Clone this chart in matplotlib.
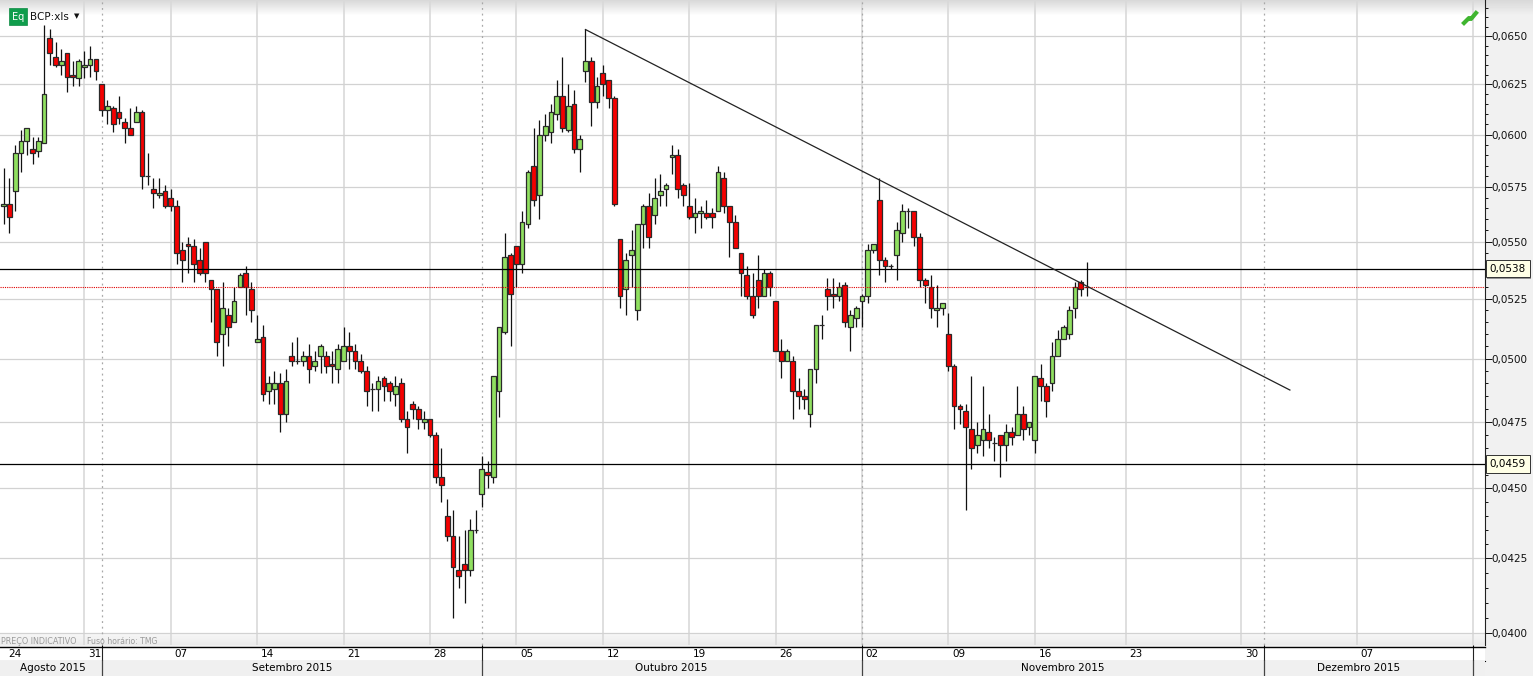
import matplotlib
matplotlib.use("Agg")
import matplotlib.patheffects as pe
import matplotlib.pyplot as plt
import numpy as np
from matplotlib.lines import Line2D
from matplotlib.ticker import FuncFormatter, NullFormatter

plt.rcParams["font.family"] = ["DejaVu Sans"]

# prices are kept in units of 0.0001 EUR
opens = [566, 567, 573, 591, 597, 593, 592, 596, 649, 639, 635, 641, 630, 628, 634, 635, 638, 625, 612, 613,
         611, 606, 603, 606, 611, 580, 574, 571, 573, 570, 566, 546, 549, 548, 542, 550, 533, 529, 510, 518,
         515, 530, 536, 529, 507, 509, 487, 488, 490, 478, 501, 499, 499, 501, 497, 501, 501, 498, 496, 499,
         505, 503, 499, 495, 488, 488, 492, 490, 486, 490, 476, 482, 480, 475, 476, 470, 454, 440, 433, 421,
         423, 421, 435, 448, 456, 454, 487, 511, 544, 548, 540, 558, 585, 571, 600, 601, 610, 619, 602, 615,
         593, 632, 637, 616, 631, 627, 618, 551, 529, 544, 520, 558, 566, 562, 571, 574, 589, 590, 576, 566,
         561, 563, 563, 563, 564, 579, 566, 559, 545, 535, 526, 533, 526, 536, 524, 503, 499, 499, 487, 485,
         478, 496, 514, 529, 527, 526, 531, 513, 517, 524, 526, 546, 569, 542, 539, 544, 554, 564, 564, 552,
         533, 530, 520, 521, 510, 497, 481, 479, 472, 466, 468, 471, 467, 470, 466, 471, 470, 478, 473, 468,
         492, 489, 490, 501, 508, 510, 521, 532, 530]
highs = [584, 579, 595, 602, 603, 599, 599, 656, 654, 647, 643, 641, 637, 638, 642, 645, 638, 625, 617, 614,
         619, 608, 613, 614, 612, 591, 579, 579, 576, 574, 569, 550, 552, 551, 547, 550, 533, 529, 532, 521,
         530, 536, 539, 532, 518, 514, 493, 495, 494, 496, 507, 509, 503, 506, 503, 506, 503, 503, 506, 513,
         511, 506, 502, 497, 490, 493, 493, 491, 493, 492, 479, 483, 481, 479, 476, 471, 465, 446, 442, 433,
         435, 439, 442, 462, 460, 493, 513, 554, 545, 548, 564, 583, 603, 607, 610, 615, 627, 639, 625, 622,
         600, 654, 639, 629, 635, 627, 619, 551, 545, 555, 558, 567, 572, 579, 581, 577, 595, 593, 577, 577,
         570, 566, 569, 565, 585, 582, 566, 562, 545, 539, 536, 544, 538, 537, 524, 508, 504, 501, 492, 488,
         496, 514, 518, 534, 534, 532, 532, 520, 522, 527, 549, 549, 579, 543, 540, 559, 567, 565, 564, 554,
         534, 535, 531, 523, 519, 498, 482, 482, 493, 475, 489, 478, 469, 470, 474, 473, 489, 481, 475, 493,
         498, 490, 507, 512, 514, 522, 532, 533, 541]
lows = [558, 554, 564, 582, 590, 586, 589, 596, 635, 634, 630, 621, 624, 624, 628, 629, 627, 609, 605, 601,
        605, 596, 600, 606, 574, 576, 565, 570, 565, 564, 540, 532, 536, 532, 535, 532, 515, 501, 497, 505,
        515, 530, 518, 515, 507, 483, 482, 482, 471, 475, 497, 498, 497, 490, 495, 494, 494, 490, 490, 499,
        496, 496, 494, 481, 479, 479, 483, 483, 481, 475, 463, 476, 472, 472, 469, 452, 445, 431, 405, 415,
        410, 419, 434, 443, 450, 452, 477, 510, 505, 530, 536, 556, 566, 560, 597, 596, 607, 601, 601, 591,
        582, 626, 604, 613, 619, 613, 566, 521, 518, 530, 516, 547, 547, 558, 566, 566, 581, 570, 566, 560,
        554, 556, 560, 556, 564, 563, 543, 547, 526, 525, 517, 521, 526, 526, 503, 492, 499, 476, 480, 480,
        473, 490, 508, 520, 521, 524, 513, 503, 513, 513, 523, 545, 535, 532, 538, 533, 550, 556, 548, 530,
        523, 517, 513, 518, 495, 472, 474, 442, 457, 463, 462, 465, 460, 454, 460, 466, 470, 468, 470, 463,
        483, 477, 487, 501, 508, 508, 517, 526, 526]
closes = [567, 561, 591, 597, 603, 591, 597, 620, 641, 635, 637, 629, 629, 637, 635, 638, 632, 612, 614, 605,
          608, 603, 600, 611, 580, 580, 572, 572, 566, 566, 545, 542, 548, 540, 536, 536, 529, 507, 521, 513,
          524, 535, 530, 520, 508, 486, 490, 490, 478, 491, 499, 499, 501, 496, 499, 505, 497, 497, 504, 505,
          503, 499, 495, 487, 488, 491, 489, 487, 489, 476, 473, 480, 476, 476, 470, 454, 451, 433, 422, 419,
          421, 435, 435, 457, 455, 493, 513, 543, 527, 540, 559, 582, 569, 600, 604, 611, 619, 603, 614, 593,
          598, 637, 616, 624, 625, 618, 567, 526, 542, 546, 558, 566, 552, 570, 573, 576, 590, 574, 571, 561,
          563, 564, 561, 561, 582, 566, 559, 547, 536, 526, 518, 526, 536, 530, 503, 499, 503, 487, 485, 484,
          496, 514, 514, 526, 526, 530, 515, 518, 521, 526, 546, 549, 542, 539, 539, 555, 564, 564, 552, 533,
          531, 521, 521, 523, 497, 481, 480, 473, 465, 470, 472, 468, 467, 466, 471, 469, 478, 472, 475, 493,
          489, 483, 501, 508, 513, 520, 530, 529, 530]

price_ticks = [0.0400, 0.0425, 0.0450, 0.0475, 0.0500, 0.0525, 0.0550, 0.0575, 0.0600, 0.0625, 0.0650]
price_minor = [p / 10000 for p in range(400, 670, 5) if p % 25 != 0]
support_levels = [0.0538, 0.0459]
last_close = 0.0530
trend_slots = [101, 215.3]
trend_prices = [0.06535, 0.04874]

# session slots: 15 per week, future weeks are drawn wider
week_slots = [14, 29, 44, 59, 74, 89, 104, 119, 134, 149, 164, 179, 194, 209, 224, 239]
week_labels = ["31", "07", "14", "21", "28", "05", "12", "19", "26", "02", "09", "16", "23", "30", "07"]
month_slots = [17, 83, 149, 212]
month_names = ["Agosto 2015", "Setembro 2015", "Outubro 2015", "Novembro 2015", "Dezembro 2015"]
month_centers = [8.55, 50, 115.8, 183.9, 224.2]

SCALE_SLOTS = [-10, 188, 194, 209, 224, 239, 260]
SCALE_PX = [-53.86, 1086.6, 1125.8, 1241.3, 1357, 1472.5, 1634.2]
W, H = 1533, 676


def to_px(x):
    return np.interp(x, SCALE_SLOTS, SCALE_PX)


def from_px(x):
    return np.interp(x, SCALE_PX, SCALE_SLOTS)


def strip_axes(top, bottom):
    return [0, (H - bottom) / H, 1484.5 / W, (bottom - top) / H]


fig = plt.figure(figsize=(W / 100, H / 100), dpi=100, facecolor="#f1f1f1")

# background shading at the top and in the note band
bg = fig.add_axes(strip_axes(0, 645))
shade = np.ones(645)
shade[:16] = np.linspace(0.85, 1.0, 16)
shade[633:] = np.linspace(0.97, 0.92, 12)
bg.imshow(shade[:, None], cmap="gray", vmin=0, vmax=1, aspect="auto")
bg.axis("off")

right = fig.add_axes([1484.5 / W, 1 - 16 / H, 1 - 1484.5 / W, 16 / H])
right.imshow(np.linspace(0.85, 0.945, 16)[:, None], cmap="gray", vmin=0, vmax=1, aspect="auto")
right.axis("off")

ax = fig.add_axes(strip_axes(0, 645), facecolor="none")
ax.set_xscale("function", functions=(to_px, from_px))
ax.set_yscale("log")

slots = np.arange(len(opens))
o = np.array(opens) / 10000
h = np.array(highs) / 10000
l = np.array(lows) / 10000
c = np.array(closes) / 10000
colors = np.where(c >= o, "#90e060", "#f50000")

ax.vlines(slots, l, h, color="#111111", lw=0.9, zorder=3)
ax.bar(slots, c - o, bottom=o, width=0.82, color=colors, edgecolor="#2a2a2a", linewidth=0.9, zorder=4)

for p in support_levels:
    ax.axhline(p, color="black", lw=0.9, zorder=5)
ax.axhline(last_close, color="#e00000", lw=0.8, ls=(0, (1, 1)), zorder=5)
ax.plot(trend_slots, trend_prices, color="#222222", lw=0.9, zorder=6)

for s in week_slots:
    ax.axvline(s, color="#d9d9d9", lw=1.2, zorder=1)
for s in month_slots:
    ax.axvline(s, color="#a8a8a8", lw=0.9, ls=(0, (1.5, 3)), zorder=2)
for p in price_ticks:
    ax.axhline(p, color="#d2d2d2", lw=0.9, zorder=1)

ax.set_xlim(from_px(0.0), from_px(1484.5))
ax.set_ylim(0.03961, 0.06694)
ax.set_xticks([])
ax.xaxis.set_minor_locator(plt.NullLocator())
ax.yaxis.tick_right()
ax.set_yticks(price_ticks)
ax.set_yticks(price_minor, minor=True)
ax.yaxis.set_major_formatter(FuncFormatter(lambda v, pos: f"{v:.4f}".replace(".", ",")))
ax.yaxis.set_minor_formatter(NullFormatter())
ax.tick_params(axis="y", which="major", length=4.8, width=0.7, pad=0.5, labelsize=7.5, colors="#111111")
ax.tick_params(axis="y", which="minor", length=2.4, width=0.7, colors="#111111")
for side in ["top", "left", "bottom"]:
    ax.spines[side].set_visible(False)
ax.spines["right"].set_linewidth(0.8)
ax.spines["right"].set_color("#222222")

# boxes with the two level prices
for p in support_levels:
    t = ax.annotate(f"{p:.4f}".replace(".", ","), xy=(1, p), xycoords=ax.get_yaxis_transform(),
                    xytext=(3.6, 0), textcoords="offset points", ha="left", va="center", fontsize=7.5,
                    bbox=dict(boxstyle="square,pad=0.36", fc="#ffffe6", ec="#333333", lw=0.7),
                    annotation_clip=False, zorder=10)
    t.get_bbox_patch().set_path_effects([pe.SimplePatchShadow(offset=(1, -1), shadow_rgbFace="#555555", alpha=0.6),
                                          pe.Normal()])

# note band
fig.text(1 / W, 1 - 641 / H, "PREÇO INDICATIVO", color="#9a9a9a", fontsize=5.8, va="center")
fig.text(87 / W, 1 - 641 / H, "Fuso horário: TMG", color="#9a9a9a", fontsize=5.6, va="center")

# date strip
dates = fig.add_axes(strip_axes(646.5, 660.5), sharex=ax, facecolor="white")
dates.set_yticks([])
dates.set_xticks(week_slots)
dates.set_xticklabels([])
dates.xaxis.set_minor_locator(plt.NullLocator())
dates.tick_params(axis="x", direction="in", length=10.2, width=0.8, color="#222222")
dates.annotate("24", xy=(0.2, 0.45), xycoords=dates.get_xaxis_transform(), xytext=(2.6, 0),
               textcoords="offset points", ha="left", va="center", fontsize=7.5)
for s, lab in zip(week_slots, week_labels):
    dates.annotate(lab, xy=(s, 0.45), xycoords=dates.get_xaxis_transform(), xytext=(2.6, 0),
                   textcoords="offset points", ha="left", va="center", fontsize=7.5)
for side in dates.spines:
    dates.spines[side].set_visible(False)
dates.spines["top"].set_visible(True)
dates.spines["top"].set_linewidth(1.0)
dates.spines["bottom"].set_visible(True)
dates.spines["bottom"].set_linewidth(0.8)

# month strip
months = fig.add_axes(strip_axes(660.5, 676), sharex=ax, facecolor="#f0f0f0")
months.set_yticks([])
months.set_xticks(month_slots + [week_slots[-1]])
months.set_xticklabels([])
months.xaxis.set_minor_locator(plt.NullLocator())
months.tick_params(axis="x", direction="in", length=11.5, width=0.9, color="#444444")
for s, name in zip(month_centers, month_names):
    months.text(s, 0.5, name, transform=months.get_xaxis_transform(), ha="center", va="center", fontsize=7.5)
for side in months.spines:
    months.spines[side].set_visible(False)

# header: instrument name and icons
fig.text(18 / W, 1 - 16.5 / H, "Eq", color="white", fontsize=7, ha="center", va="center", zorder=20,
         bbox=dict(boxstyle="square,pad=0.32", fc="#0f9d4c", ec="#0c8a42", lw=0.5))
fig.text(30 / W, 1 - 17 / H, "BCP:xls", color="#111111", fontsize=7.5, va="center", zorder=20)
fig.text(77 / W, 1 - 16 / H, "▼", color="#111111", fontsize=5, ha="center", va="center", zorder=20)
fig.add_artist(Line2D(np.array([1464, 1469, 1471, 1476]) / W, 1 - np.array([23, 18, 19, 13]) / H,
                      color="#3fb52f", lw=3.0, transform=fig.transFigure, zorder=20))

fig.savefig("out.png", dpi=100, facecolor=fig.get_facecolor())
